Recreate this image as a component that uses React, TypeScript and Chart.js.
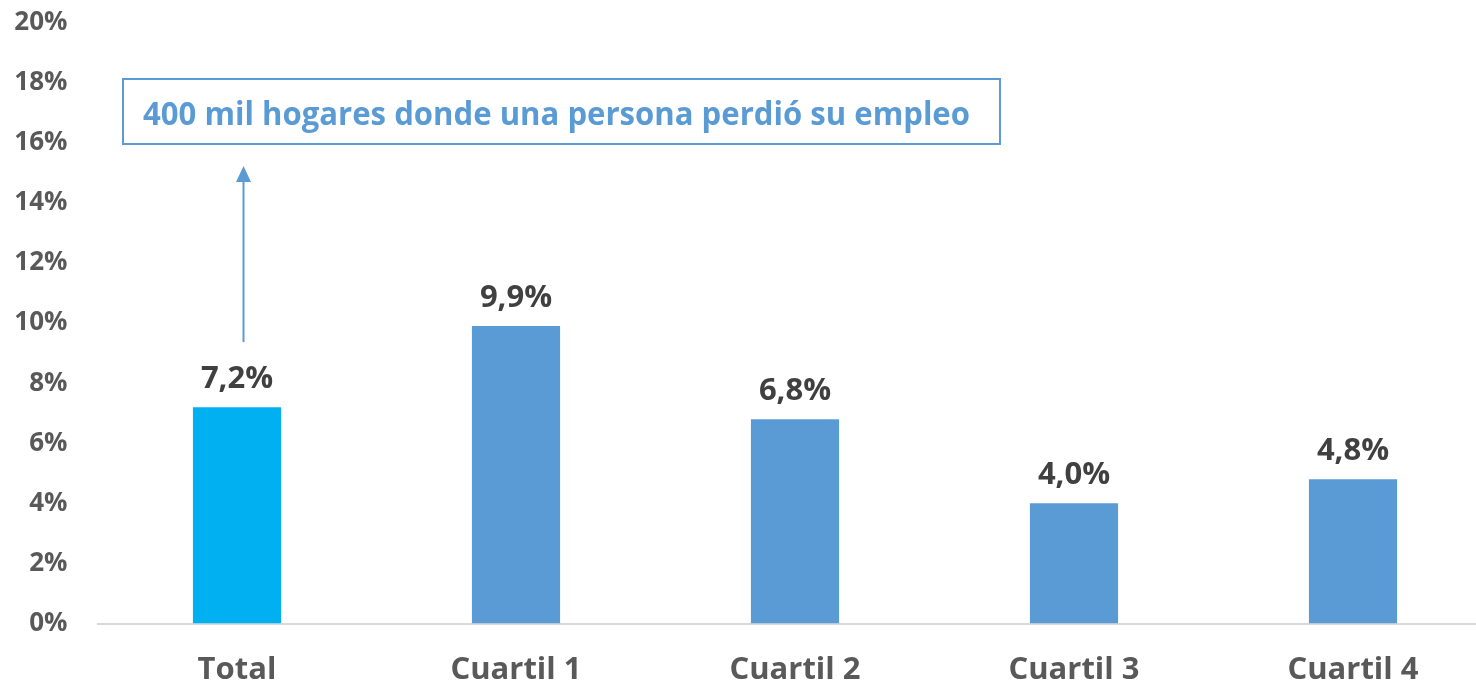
import React, { useEffect, useRef } from "react";
import { Chart, registerables } from "chart.js";

Chart.register(...registerables);

const categories = ["Total", "Cuartil 1", "Cuartil 2", "Cuartil 3", "Cuartil 4"];
const values = [7.2, 9.9, 6.8, 4.0, 4.8];
const valueLabels = ["7,2%", "9,9%", "6,8%", "4,0%", "4,8%"];
const barColors = ["#00B0F0", "#5B9BD5", "#5B9BD5", "#5B9BD5", "#5B9BD5"];
const yMin = 0;
const yMax = 20;
const yStep = 2;
const annotationText = "400 mil hogares donde una persona perdió su empleo";

const FONT = "'Open Sans', 'DejaVu Sans', sans-serif";

const dataLabelPlugin = {
  id: "dataLabels",
  afterDatasetsDraw(chart: any) {
    const ctx = chart.ctx;
    const meta = chart.getDatasetMeta(0);
    ctx.save();
    ctx.font = `bold 31px ${FONT}`;
    ctx.fillStyle = "#404040";
    ctx.textAlign = "center";
    ctx.textBaseline = "alphabetic";
    meta.data.forEach((bar: any, i: number) => {
      ctx.fillText(valueLabels[i], bar.x, bar.y - 19);
    });
    ctx.restore();
  },
};

const annotationPlugin = {
  id: "annotationBox",
  afterDraw(chart: any) {
    const ctx = chart.ctx;
    const ca = chart.chartArea;
    const bar = chart.getDatasetMeta(0).data[0];
    ctx.save();
    const bx = ca.left + 25.5;
    const by = 79;
    const bw = 877;
    const bh = 65;
    ctx.strokeStyle = "#5B9BD5";
    ctx.lineWidth = 2;
    ctx.strokeRect(bx, by, bw, bh);
    ctx.font = `bold 33px ${FONT}`;
    ctx.fillStyle = "#5B9BD5";
    ctx.textBaseline = "alphabetic";
    ctx.textAlign = "left";
    const w = ctx.measureText(annotationText).width;
    const target = 827;
    ctx.save();
    ctx.translate(bx + 20, 125);
    ctx.scale(target / w, 1);
    ctx.fillText(annotationText, 0, 0);
    ctx.restore();
    const ax = bar.x + 6.5;
    const bottom = bar.y - 65;
    const tip = by + bh + 22;
    ctx.strokeStyle = "#5B9BD5";
    ctx.fillStyle = "#5B9BD5";
    ctx.lineWidth = 2;
    ctx.beginPath();
    ctx.moveTo(ax, bottom);
    ctx.lineTo(ax, tip + 14);
    ctx.stroke();
    ctx.beginPath();
    ctx.moveTo(ax, tip);
    ctx.lineTo(ax - 7.5, tip + 16);
    ctx.lineTo(ax + 7.5, tip + 16);
    ctx.closePath();
    ctx.fill();
    ctx.restore();
  },
};

export default function App() {
  const ref = useRef<HTMLCanvasElement | null>(null);
  useEffect(() => {
    if (!ref.current) return;
    const chart = new Chart(ref.current, {
      type: "bar",
      data: {
        labels: categories,
        datasets: [
          {
            data: values,
            backgroundColor: barColors,
            borderWidth: 0,
            barPercentage: 0.316,
            categoryPercentage: 1,
          },
        ],
      },
      options: {
        responsive: false,
        animation: false,
        devicePixelRatio: 1,
        layout: { padding: { top: 22.5, right: 7.5, left: 0, bottom: 0 } },
        plugins: {
          legend: { display: false },
          tooltip: { enabled: false },
          title: { display: false },
        },
        scales: {
          x: {
            grid: { display: false, drawTicks: false },
            border: { display: true, color: "#D9D9D9", width: 2 },
            ticks: {
              color: "#595959",
              font: { family: FONT, size: 31, weight: "bold" },
              padding: 28,
              maxRotation: 0,
              autoSkip: false,
            },
            afterFit: (scale: any) => {
              scale.height = 62.5;
              scale.paddingLeft = 0;
              scale.paddingRight = 0;
            },
          },
          y: {
            min: yMin,
            max: yMax,
            grid: { display: false, drawTicks: false },
            border: { display: false },
            ticks: {
              stepSize: yStep,
              color: "#595959",
              font: { family: FONT, size: 26, weight: "bold" },
              padding: 30,
              callback: (v: any) => `${v}%`,
            },
            afterFit: (scale: any) => {
              scale.width = 97.5;
              scale.paddingTop = 0;
              scale.paddingBottom = 0;
            },
          },
        },
      },
      plugins: [dataLabelPlugin, annotationPlugin],
    });
    return () => chart.destroy();
  }, []);
  return (
    <div
      style={{
        position: "fixed",
        left: 0,
        top: 0,
        width: 1476,
        height: 686,
        overflow: "hidden",
        background: "#fff",
      }}
    >
      <canvas ref={ref} width={1500} height={686} style={{ display: "block", width: 1500, height: 686 }} />
    </div>
  );
}
